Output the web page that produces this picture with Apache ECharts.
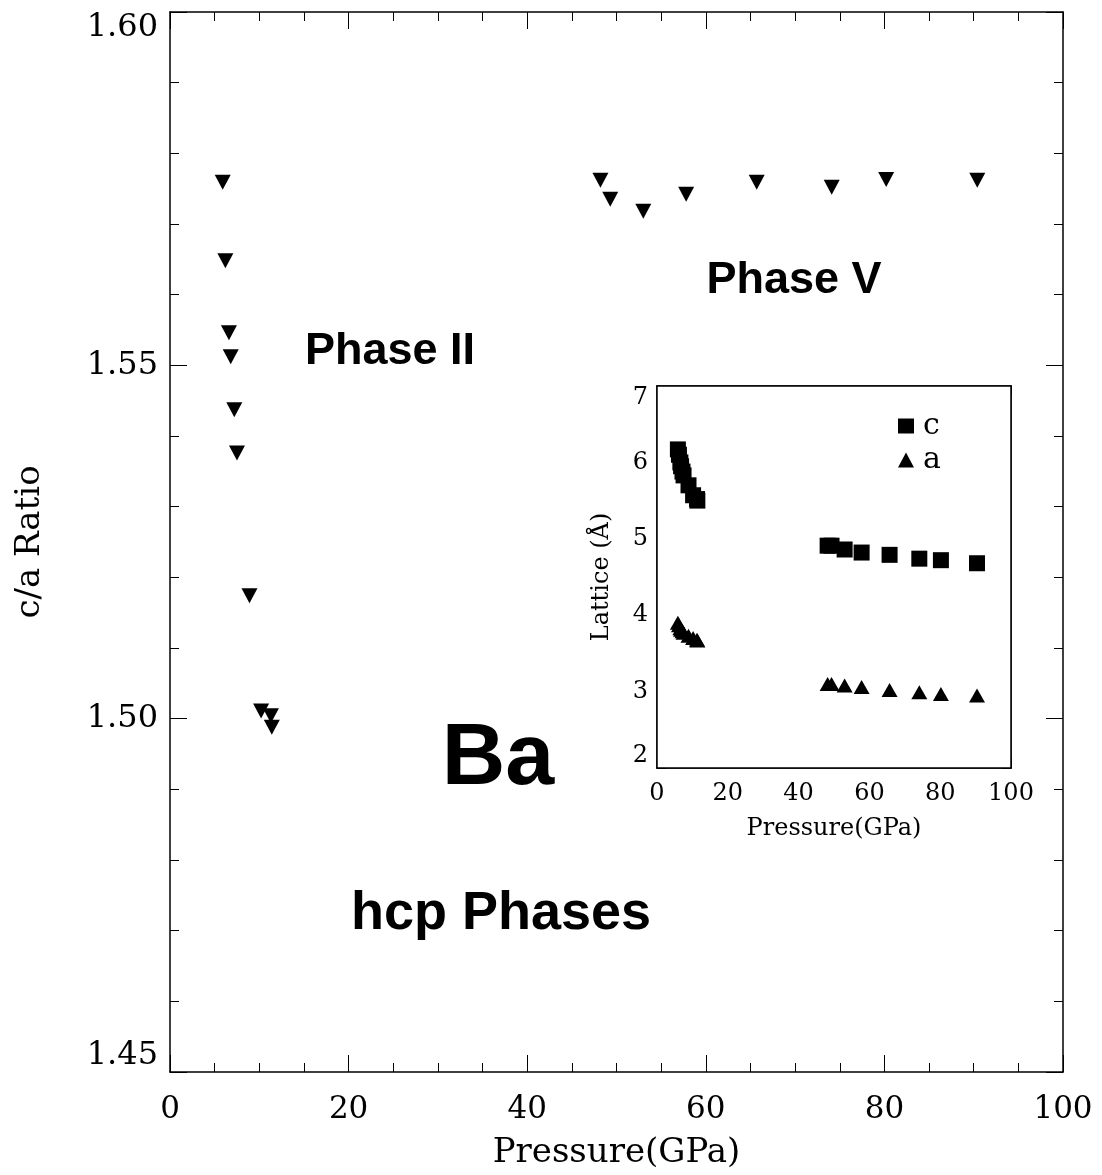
<!DOCTYPE html>
<html>
<head>
<meta charset="utf-8">
<script src="https://cdn.jsdelivr.net/npm/echarts@6/dist/echarts.min.js"></script>
<style>
  html, body { margin: 0; padding: 0; background: #fff; }
  #chart { width: 1102px; height: 1175px; }
</style>
</head>
<body>
<div id="chart"></div>
<script>
// ---- Data ----
const pressurePhaseII = [5.9, 6.2, 6.6, 6.8, 7.2, 7.5, 8.9, 10.2, 11.3, 11.4];
const ratioPhaseII    = [1.5759, 1.5648, 1.5546, 1.5512, 1.5437, 1.5376, 1.5174, 1.5011, 1.5004, 1.4988];
const pressurePhaseV  = [48.2, 49.3, 53.0, 57.8, 65.7, 74.1, 80.2, 90.4];
const ratioPhaseV     = [1.5762, 1.5735, 1.5718, 1.5742, 1.5759, 1.5752, 1.5763, 1.5762];

const latticeC_II = [6.17, 6.10, 6.00, 5.95, 5.88, 5.83, 5.70, 5.57, 5.52, 5.50];
const latticeA_II = [3.90, 3.87, 3.83, 3.81, 3.79, 3.77, 3.73, 3.70, 3.68, 3.67];
const latticeC_V  = [4.91, 4.91, 4.86, 4.82, 4.79, 4.74, 4.72, 4.68];
const latticeA_V  = [3.10, 3.10, 3.08, 3.06, 3.02, 2.99, 2.97, 2.95];

const mainXTicks = { min: 0, max: 100, interval: 20 };
const mainYTicks = { min: 1.45, max: 1.60, interval: 0.05 };
const insetXTicks = { min: 0, max: 100, interval: 20 };
const insetYTicks = { min: 2, max: 7, interval: 1 };

const annotations = [
  { text: 'Phase II', x: 390, y: 352, size: 45 },
  { text: 'Phase V', x: 794, y: 281, size: 45 },
  { text: 'Ba', x: 498, y: 760, size: 88 },
  { text: 'hcp Phases', x: 501, y: 914, size: 54 }
];

// ---- Helpers ----
const pairs = (xs, ys) => xs.map((x, i) => [x, ys[i]]);
const SERIF = 'DejaVu Serif';
const BLACK = '#000';

function axisBase(o) {
  return Object.assign({
    axisLine: { show: true, onZero: false, lineStyle: { color: BLACK, width: 1.5 } },
    splitLine: { show: false },
  }, o);
}

const chart = echarts.init(document.getElementById('chart'), null, { renderer: 'canvas' });

const option = {
  backgroundColor: '#fff',
  animation: false,
  grid: [
    { left: 170, top: 12, width: 893, height: 1060, show: false, containLabel: false, outerBoundsMode: 'none' },
    { left: 657, top: 386, width: 354, height: 382, show: true, backgroundColor: '#fff', borderColor: BLACK, borderWidth: 1.5, z: 5, containLabel: false, outerBoundsMode: 'none' }
  ],
  xAxis: [
    axisBase({
      gridIndex: 0, type: 'value', position: 'bottom',
      min: mainXTicks.min, max: mainXTicks.max, interval: mainXTicks.interval,
      axisTick: { inside: true, length: 17, lineStyle: { color: BLACK, width: 1 } },
      minorTick: { show: true, splitNumber: 4, length: 9, lineStyle: { color: BLACK, width: 1 } },
      axisLabel: { color: BLACK, fontFamily: SERIF, fontSize: 31, margin: 22 },
      name: 'Pressure(GPa)', nameLocation: 'middle', nameGap: 64,
      nameTextStyle: { color: BLACK, fontFamily: SERIF, fontSize: 34 }
    }),
    axisBase({
      gridIndex: 0, type: 'value', position: 'top',
      min: mainXTicks.min, max: mainXTicks.max, interval: mainXTicks.interval,
      axisTick: { inside: true, length: 17, lineStyle: { color: BLACK, width: 1 } },
      minorTick: { show: true, splitNumber: 4, length: 9, lineStyle: { color: BLACK, width: 1 } },
      axisLabel: { show: false }
    }),
    axisBase({
      gridIndex: 1, type: 'value', position: 'bottom',
      min: insetXTicks.min, max: insetXTicks.max, interval: insetXTicks.interval,
      axisTick: { inside: true, length: 9, lineStyle: { color: BLACK, width: 1 } },
      minorTick: { show: true, splitNumber: 4, length: 5, lineStyle: { color: BLACK, width: 1 } },
      axisLabel: { color: BLACK, fontFamily: SERIF, fontSize: 24, margin: 14 },
      name: 'Pressure(GPa)', nameLocation: 'middle', nameGap: 49,
      nameTextStyle: { color: BLACK, fontFamily: SERIF, fontSize: 24 }
    }),
    axisBase({
      gridIndex: 1, type: 'value', position: 'top',
      min: insetXTicks.min, max: insetXTicks.max, interval: insetXTicks.interval,
      axisTick: { inside: true, length: 9, lineStyle: { color: BLACK, width: 1 } },
      minorTick: { show: true, splitNumber: 4, length: 5, lineStyle: { color: BLACK, width: 1 } },
      axisLabel: { show: false }
    })
  ],
  yAxis: [
    axisBase({
      gridIndex: 0, type: 'value', position: 'left',
      min: mainYTicks.min, max: mainYTicks.max, interval: mainYTicks.interval,
      axisTick: { inside: true, length: 17, lineStyle: { color: BLACK, width: 1 } },
      minorTick: { show: true, splitNumber: 5, length: 9, lineStyle: { color: BLACK, width: 1 } },
      axisLabel: {
        color: BLACK, fontFamily: SERIF, fontSize: 32, margin: 12, formatter: v => v.toFixed(2),
        verticalAlignMaxLabel: 'top', verticalAlignMinLabel: 'bottom'
      },
      name: 'c/a Ratio', nameLocation: 'middle', nameGap: 123,
      nameTextStyle: { color: BLACK, fontFamily: SERIF, fontSize: 34 }
    }),
    axisBase({
      gridIndex: 0, type: 'value', position: 'right',
      min: mainYTicks.min, max: mainYTicks.max, interval: mainYTicks.interval,
      axisTick: { inside: true, length: 17, lineStyle: { color: BLACK, width: 1 } },
      minorTick: { show: true, splitNumber: 5, length: 9, lineStyle: { color: BLACK, width: 1 } },
      axisLabel: { show: false }
    }),
    axisBase({
      gridIndex: 1, type: 'value', position: 'left',
      min: insetYTicks.min, max: insetYTicks.max, interval: insetYTicks.interval,
      axisTick: { inside: true, length: 9, lineStyle: { color: BLACK, width: 1 } },
      minorTick: { show: true, splitNumber: 5, length: 5, lineStyle: { color: BLACK, width: 1 } },
      axisLabel: {
        color: BLACK, fontFamily: SERIF, fontSize: 24, margin: 9,
        verticalAlignMaxLabel: 'top', verticalAlignMinLabel: 'bottom'
      },
      name: 'Lattice (Å)', nameLocation: 'middle', nameGap: 43,
      nameTextStyle: { color: BLACK, fontFamily: SERIF, fontSize: 24 }
    }),
    axisBase({
      gridIndex: 1, type: 'value', position: 'right',
      min: insetYTicks.min, max: insetYTicks.max, interval: insetYTicks.interval,
      axisTick: { inside: true, length: 9, lineStyle: { color: BLACK, width: 1 } },
      minorTick: { show: true, splitNumber: 5, length: 5, lineStyle: { color: BLACK, width: 1 } },
      axisLabel: { show: false }
    })
  ],
  legend: {
    data: ['c', 'a'],
    orient: 'vertical',
    left: 893, top: 406,
    itemWidth: 16, itemHeight: 15, itemGap: 4,
    textStyle: { color: BLACK, fontFamily: SERIF, fontSize: 30, padding: [0, 0, 0, 4] },
    z: 20
  },
  series: [
    {
      name: 'Phase II', type: 'scatter', xAxisIndex: 0, yAxisIndex: 0,
      symbol: 'triangle', symbolRotate: 180, symbolSize: [16, 15],
      itemStyle: { color: BLACK, opacity: 1 },
      data: pairs(pressurePhaseII, ratioPhaseII)
    },
    {
      name: 'Phase V', type: 'scatter', xAxisIndex: 0, yAxisIndex: 0,
      symbol: 'triangle', symbolRotate: 180, symbolSize: [16, 15],
      itemStyle: { color: BLACK, opacity: 1 },
      data: pairs(pressurePhaseV, ratioPhaseV)
    },
    {
      name: 'c', type: 'scatter', xAxisIndex: 2, yAxisIndex: 2,
      symbol: 'rect', symbolSize: 16, z: 10,
      itemStyle: { color: BLACK, opacity: 1 },
      data: pairs(pressurePhaseII.concat(pressurePhaseV), latticeC_II.concat(latticeC_V))
    },
    {
      name: 'a', type: 'scatter', xAxisIndex: 2, yAxisIndex: 2,
      symbol: 'triangle', symbolSize: [16, 14], z: 10,
      itemStyle: { color: BLACK, opacity: 1 },
      data: pairs(pressurePhaseII.concat(pressurePhaseV), latticeA_II.concat(latticeA_V))
    }
  ],
  graphic: annotations.map(a => ({
    type: 'text', x: a.x, y: a.y, z: 30,
    style: {
      text: a.text, fill: BLACK,
      font: 'bold ' + a.size + 'px "Liberation Sans", Arial, sans-serif',
      textAlign: 'center', textVerticalAlign: 'middle'
    }
  }))
};

chart.setOption(option);
</script>
</body>
</html>
